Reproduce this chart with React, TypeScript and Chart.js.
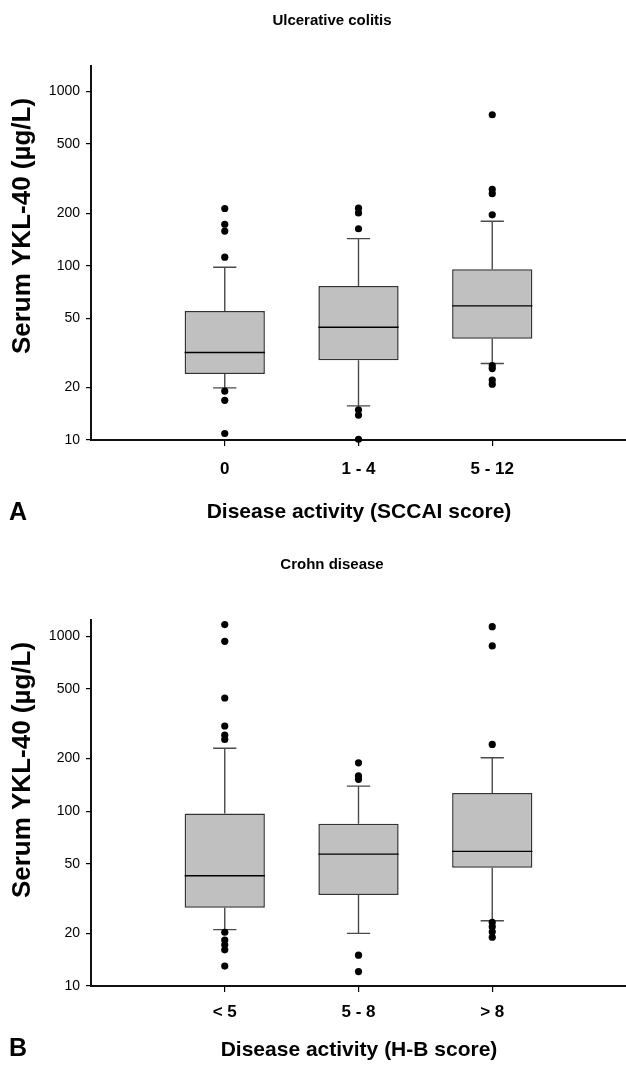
import React, { useEffect, useRef } from "react";
import { Chart, registerables } from "chart.js";

Chart.register(...registerables);

const FONT = '"Liberation Sans", Arial, Helvetica, sans-serif';

// ---------- Panel A: Ulcerative colitis ----------
const ucCategories = ["0", "1 - 4", "5 - 12"];
const ucQ1 = [23.9, 28.7, 38.1];
const ucMedian = [31.8, 44.4, 58.8];
const ucQ3 = [54.9, 76.6, 95.5];
const ucWhiskerLow = [19.9, 15.7, 27.5];
const ucWhiskerHigh = [98, 143, 180];
const ucOutliers0 = [213, 173, 158, 112, 19.1, 16.9, 10.9];
const ucOutliers1 = [214, 201, 163, 14.9, 13.9, 10.1];
const ucOutliers2 = [735, 274, 259, 196, 26.7, 25.7, 22.1, 20.9];
const ucYMax = 1400;

// ---------- Panel B: Crohn disease ----------
const cdCategories = ["< 5", "5 - 8", "> 8"];
const cdQ1 = [28, 33.2, 47.4];
const cdMedian = [42.7, 56.8, 58.9];
const cdQ3 = [97, 84.6, 127];
const cdWhiskerLow = [21, 20, 23.6];
const cdWhiskerHigh = [229, 139, 202];
const cdOutliers0 = [1167, 936, 444, 307, 272, 257, 20.3, 18.3, 17.2, 16.1, 13.0];
const cdOutliers1 = [189, 159, 152, 15.0, 12.1];
const cdOutliers2 = [1136, 881, 241, 23.1, 21.8, 20.4, 19.0];
const cdYMax = 1240;

const yTickValues = [10, 20, 50, 100, 200, 500, 1000];
const yAxisTitle = "Serum YKL-40 (µg/L)";

const CANVAS_W = 630;

const boxExtras = {
  id: "boxExtras",
  beforeDatasetsDraw(chart: any, _a: any, o: any) {
    const { ctx } = chart;
    const x = chart.scales.x;
    const y = chart.scales.y;
    ctx.save();
    ctx.strokeStyle = "#4a4a4a";
    ctx.lineWidth = 1.4;
    o.q1.forEach((_: number, i: number) => {
      const cx = x.getPixelForValue(i + 1);
      const half = x.getPixelForValue(i + 1 + o.capHalf) - cx;
      const yq3 = y.getPixelForValue(o.q3[i]);
      const yq1 = y.getPixelForValue(o.q1[i]);
      const yHi = y.getPixelForValue(o.wHigh[i]);
      const yLo = y.getPixelForValue(o.wLow[i]);
      ctx.beginPath();
      ctx.moveTo(cx, yq3);
      ctx.lineTo(cx, yHi);
      ctx.moveTo(cx - half, yHi);
      ctx.lineTo(cx + half, yHi);
      ctx.moveTo(cx, yq1);
      ctx.lineTo(cx, yLo);
      ctx.moveTo(cx - half, yLo);
      ctx.lineTo(cx + half, yLo);
      ctx.stroke();
    });
    ctx.restore();
  },
  afterDatasetsDraw(chart: any, _a: any, o: any) {
    const { ctx } = chart;
    const x = chart.scales.x;
    const y = chart.scales.y;
    ctx.save();
    ctx.strokeStyle = "#000";
    ctx.lineWidth = 1.4;
    o.median.forEach((m: number, i: number) => {
      const l = x.getPixelForValue(i + 1 - o.boxHalf);
      const r = x.getPixelForValue(i + 1 + o.boxHalf);
      const ym = y.getPixelForValue(m);
      ctx.beginPath();
      ctx.moveTo(l, ym);
      ctx.lineTo(r, ym);
      ctx.stroke();
    });
    ctx.restore();
  },
};

const panelText = {
  id: "panelText",
  afterDraw(chart: any, _a: any, o: any) {
    const { ctx } = chart;
    ctx.save();
    ctx.fillStyle = "#000";
    ctx.textBaseline = "middle";
    ctx.textAlign = "center";
    ctx.font = `bold 15px ${FONT}`;
    ctx.fillText(o.title, o.titleX, o.titleY);
    ctx.font = `bold 21px ${FONT}`;
    ctx.fillText(o.xTitle, o.xTitleX, o.xTitleY);
    ctx.textAlign = "left";
    ctx.font = `bold 25px ${FONT}`;
    ctx.fillText(o.letter, o.letterX, o.letterY);
    ctx.translate(o.yTitleX, o.yTitleY);
    ctx.rotate(-Math.PI / 2);
    ctx.textAlign = "center";
    ctx.font = `bold 26px ${FONT}`;
    ctx.fillText(o.yTitle, 0, 0);
    ctx.restore();
  },
};

type PanelProps = {
  top: number;
  height: number;
  areaTop: number;
  areaBottom: number;
  tickPad: number;
  title: string;
  xTitle: string;
  letter: string;
  xTitleY: number;
  letterY: number;
  categories: string[];
  q1: number[];
  median: number[];
  q3: number[];
  wLow: number[];
  wHigh: number[];
  outliers: number[][];
  yMax: number;
};

function Panel(p: PanelProps) {
  const ref = useRef<HTMLCanvasElement | null>(null);
  useEffect(() => {
    if (!ref.current) return;
    const boxData = p.categories.map((_, i) => ({ x: i + 1, y: [p.q1[i], p.q3[i]] }));
    const outlierData: { x: number; y: number }[] = [];
    p.outliers.forEach((arr, i) => arr.forEach((v) => outlierData.push({ x: i + 1, y: v })));
    const chart = new Chart(ref.current, {
      type: "bar",
      data: {
        datasets: [
          {
            type: "scatter",
            data: outlierData,
            pointRadius: 3.6,
            pointBackgroundColor: "#000",
            pointBorderWidth: 0,
            clip: false,
            order: 0,
          } as any,
          {
            type: "bar",
            data: boxData as any,
            backgroundColor: "#c0c0c0",
            borderColor: "#333",
            borderWidth: 1.5,
            borderSkipped: false,
            barPercentage: 0.6,
            categoryPercentage: 1,
            order: 1,
          } as any,
        ],
      },
      options: {
        animation: false,
        responsive: false,
        events: [],
        layout: { padding: { top: p.areaTop, left: 0, right: 0, bottom: 0 } },
        plugins: {
          legend: { display: false },
          tooltip: { enabled: false },
          title: { display: false },
          boxExtras: {
            q1: p.q1,
            q3: p.q3,
            median: p.median,
            wLow: p.wLow,
            wHigh: p.wHigh,
            capHalf: 0.087,
            boxHalf: 0.3,
          },
          panelText: {
            title: p.title,
            titleX: 332,
            titleY: 21,
            xTitle: p.xTitle,
            xTitleX: 359,
            xTitleY: p.xTitleY,
            letter: p.letter,
            letterX: 9,
            letterY: p.letterY,
            yTitle: yAxisTitle,
            yTitleX: 23,
            yTitleY: 226,
          },
        } as any,
        scales: {
          x: {
            type: "linear",
            min: 0,
            max: 4,
            offset: false,
            afterBuildTicks: (s: any) => {
              s.ticks = p.categories.map((_, i) => ({ value: i + 1 }));
            },
            afterFit: (s: any) => {
              s.height = p.height - p.areaBottom;
            },
            ticks: {
              callback: (v: any) => p.categories[Number(v) - 1],
              color: "#000",
              font: { family: FONT, size: 17, weight: "bold" },
              padding: p.tickPad,
              maxRotation: 0,
              autoSkip: false,
            },
            grid: {
              offset: false,
              drawOnChartArea: false,
              drawTicks: true,
              tickLength: 6,
              color: "#000",
              lineWidth: 1.2,
            },
            border: { display: true, color: "#111", width: 2 },
          },
          y: {
            type: "logarithmic",
            min: 10,
            max: p.yMax,
            afterBuildTicks: (s: any) => {
              s.ticks = yTickValues.map((v) => ({ value: v }));
            },
            afterFit: (s: any) => {
              s.width = 91;
            },
            ticks: {
              callback: (v: any) => String(v),
              color: "#000",
              font: { family: FONT, size: 14 },
              padding: 6,
              autoSkip: false,
            },
            grid: {
              drawOnChartArea: false,
              drawTicks: true,
              tickLength: 5,
              color: "#000",
              lineWidth: 1.2,
            },
            border: { display: true, color: "#111", width: 2 },
          },
        } as any,
      },
      plugins: [boxExtras, panelText],
    });
    return () => chart.destroy();
  }, []);
  return (
    <canvas
      ref={ref}
      width={CANVAS_W}
      height={p.height}
      style={{ position: "absolute", left: 0, top: p.top, width: CANVAS_W, height: p.height, display: "block" }}
    />
  );
}

export default function App() {
  return (
    <div style={{ position: "absolute", left: 0, top: 0, width: 626, height: 1068, overflow: "hidden", background: "#fff" }}>
      <Panel
        top={0}
        height={534}
        areaTop={66}
        areaBottom={440}
        tickPad={13}
        title="Ulcerative colitis"
        xTitle="Disease activity (SCCAI score)"
        letter="A"
        xTitleY={512}
        letterY={513}
        categories={ucCategories}
        q1={ucQ1}
        median={ucMedian}
        q3={ucQ3}
        wLow={ucWhiskerLow}
        wHigh={ucWhiskerHigh}
        outliers={[ucOutliers0, ucOutliers1, ucOutliers2]}
        yMax={ucYMax}
      />
      <Panel
        top={544}
        height={524}
        areaTop={76}
        areaBottom={442}
        tickPad={10}
        title="Crohn disease"
        xTitle="Disease activity (H-B score)"
        letter="B"
        xTitleY={506}
        letterY={505}
        categories={cdCategories}
        q1={cdQ1}
        median={cdMedian}
        q3={cdQ3}
        wLow={cdWhiskerLow}
        wHigh={cdWhiskerHigh}
        outliers={[cdOutliers0, cdOutliers1, cdOutliers2]}
        yMax={cdYMax}
      />
    </div>
  );
}
